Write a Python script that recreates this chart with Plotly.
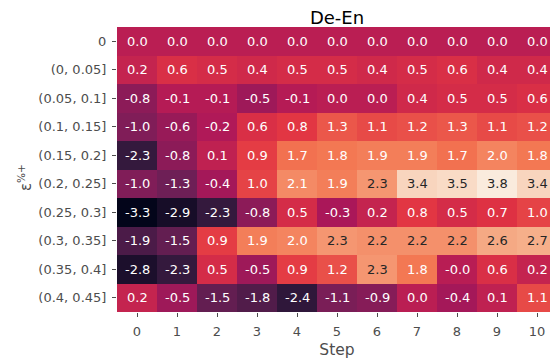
import plotly.graph_objects as go

steps = list(range(11))
bins = ["0", "(0, 0.05]", "(0.05, 0.1]", "(0.1, 0.15]", "(0.15, 0.2]", "(0.2, 0.25]",
        "(0.25, 0.3]", "(0.3, 0.35]", "(0.35, 0.4]", "(0.4, 0.45]"]

row_0 = [0.0, 0.0, 0.0, 0.0, 0.0, 0.0, 0.0, 0.0, 0.0, 0.0, 0.0]
row_1 = [0.2, 0.6, 0.5, 0.4, 0.5, 0.5, 0.4, 0.5, 0.6, 0.4, 0.4]
row_2 = [-0.8, -0.1, -0.1, -0.5, -0.1, 0.0, 0.0, 0.4, 0.5, 0.5, 0.6]
row_3 = [-1.0, -0.6, -0.2, 0.6, 0.8, 1.3, 1.1, 1.2, 1.3, 1.1, 1.2]
row_4 = [-2.3, -0.8, 0.1, 0.9, 1.7, 1.8, 1.9, 1.9, 1.7, 2.0, 1.8]
row_5 = [-1.0, -1.3, -0.4, 1.0, 2.1, 1.9, 2.3, 3.4, 3.5, 3.8, 3.4]
row_6 = [-3.3, -2.9, -2.3, -0.8, 0.5, -0.3, 0.2, 0.8, 0.5, 0.7, 1.0]
row_7 = [-1.9, -1.5, 0.9, 1.9, 2.0, 2.3, 2.2, 2.2, 2.2, 2.6, 2.7]
row_8 = [-2.8, -2.3, 0.5, -0.5, 0.9, 1.2, 2.3, 1.8, -0.04, 0.6, 0.2]
row_9 = [0.2, -0.5, -1.5, -1.8, -2.4, -1.1, -0.9, 0.0, -0.4, 0.1, 1.1]

z = [row_0, row_1, row_2, row_3, row_4, row_5, row_6, row_7, row_8, row_9]

rocket = [
    [0.0, "#03051a"],
    [1/7, "#35193e"],
    [2/7, "#701f57"],
    [3/7, "#ad1759"],
    [4/7, "#e13342"],
    [5/7, "#f37651"],
    [6/7, "#f6b48f"],
    [1.0, "#faebdd"],
]

flat = [v for r in z for v in r]
zmin, zmax = min(flat), max(flat)

fig = go.Figure(go.Heatmap(
    z=z, x=steps, y=bins, colorscale=rocket, zmin=zmin, zmax=zmax,
    showscale=False, xgap=0, ygap=0, hoverinfo="skip",
))

ann = []
for i, r in enumerate(z):
    for j, v in enumerate(r):
        ann.append(dict(
            x=steps[j], y=bins[i], text=f"{v:.1f}", showarrow=False,
            font=dict(family="DejaVu Sans", size=13,
                      color="#262626" if v >= 2.15 else "white"),
        ))
ann.append(dict(
    xref="paper", yref="paper", x=-0.209, y=0.47, text="ε<sup>%+</sup>",
    textangle=-90, showarrow=False, xanchor="center", yanchor="middle",
    font=dict(family="DejaVu Sans", size=15, color="#4d4d4d"),
))

fig.update_layout(
    width=550, height=353,
    margin=dict(l=109, r=1, t=19, b=49),
    paper_bgcolor="white", plot_bgcolor="white",
    font=dict(family="DejaVu Sans", color="#4d4d4d", size=13),
    title=dict(text="De-En", x=0.5, xref="paper", y=0.972, yanchor="middle",
               font=dict(family="DejaVu Sans", size=18, color="black")),
    annotations=ann,
)
fig.update_xaxes(
    tickmode="array", tickvals=steps, ticktext=[str(s) for s in steps],
    ticks="outside", ticklen=4, tickcolor="#4d4d4d", showgrid=False, zeroline=False,
    ticklabelstandoff=3,
    title=dict(text="Step", font=dict(size=15.5, color="#4d4d4d"), standoff=6),
    tickfont=dict(size=13, color="#4d4d4d"),
)
fig.update_yaxes(
    autorange="reversed", ticks="outside", ticklen=4, tickcolor="#4d4d4d",
    ticklabelstandoff=3,
    showgrid=False, zeroline=False, tickfont=dict(size=13, color="#4d4d4d"),
)

fig.write_html("out.html")
